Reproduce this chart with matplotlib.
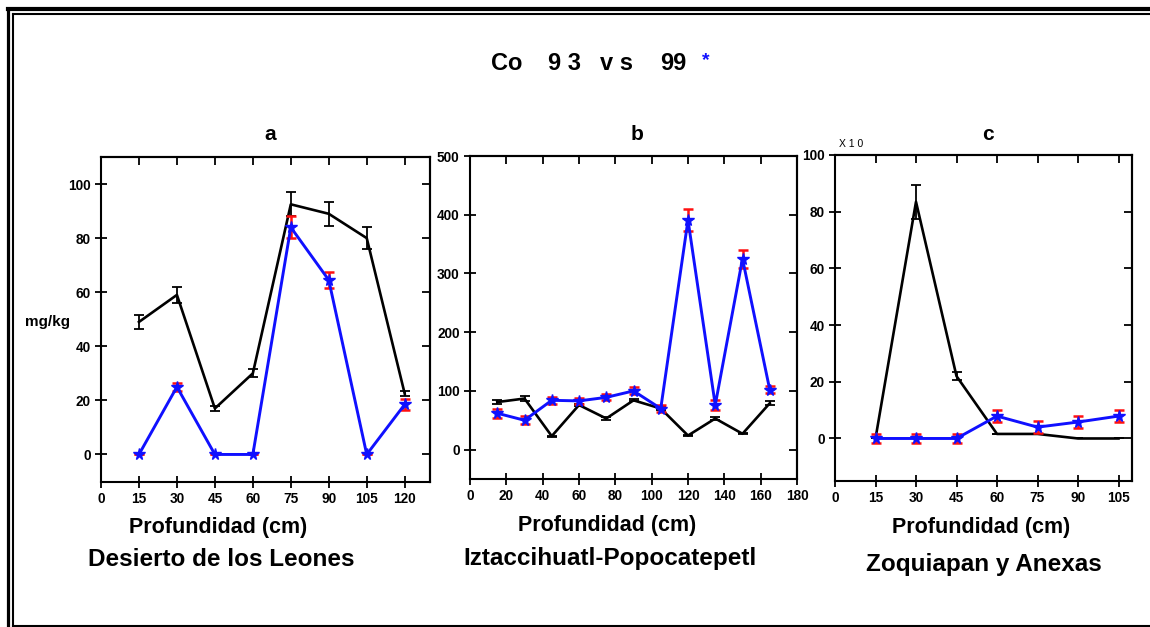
import matplotlib
matplotlib.use("Agg")
import matplotlib.pyplot as plt
from matplotlib.lines import Line2D
from matplotlib import font_manager

# ---------------- data ----------------
depth_a = [15, 30, 45, 60, 75, 90, 105, 120]
co93_a = [49, 59, 17, 30, 92.5, 89, 80, 22.5]
co93_a_err = [2.5, 3, 1, 1.5, 4.5, 4.5, 4, 1]
co99_a = [0, 25, 0, 0, 84, 64.5, 0, 18.5]
co99_a_err = [0, 1.5, 0, 0, 4, 3, 0, 2]

depth_b = [15, 30, 45, 60, 75, 90, 105, 120, 135, 150, 165]
co93_b = [81, 87, 23, 76, 53, 84, 70, 24, 53, 27, 79]
co93_b_err = [3, 4, 1, 2, 2, 2, 2, 1, 2, 1, 3]
co99_b = [62, 50, 84, 83, 89, 100, 70, 391, 76, 325, 102]
co99_b_err = [8, 7, 6, 5, 5, 6, 6, 18, 8, 15, 6]

depth_c = [15, 30, 45, 60, 75, 90, 105]
co93_c = [0, 83.5, 22, 1.6, 1.6, 0, 0]
co93_c_err = [0, 6, 1.5, 0, 0, 0, 0]
co99_c = [0, 0, 0, 7.9, 4, 5.8, 7.9]
co99_c_err = [1.5, 1.5, 1.5, 2, 2, 2, 2]

xticks_a = [0, 15, 30, 45, 60, 75, 90, 105, 120]
yticks_a = [0, 20, 40, 60, 80, 100]
xticks_b = [0, 20, 40, 60, 80, 100, 120, 140, 160, 180]
yticks_b = [0, 100, 200, 300, 400, 500]
xticks_c = [0, 15, 30, 45, 60, 75, 90, 105]
yticks_c = [0, 20, 40, 60, 80, 100]

panel_titles = ["a", "b", "c"]
sites = ["Desierto de los Leones", "Iztaccihuatl-Popocatepetl", "Zoquiapan y Anexas"]
xlabel = "Profundidad (cm)"
ylabel = "mg/kg"
title_parts = ["Co", "9 3", "v s", "99"]

# ---------------- fonts ----------------
names = {f.name for f in font_manager.fontManager.ttflist}
narrow = "Liberation Sans Narrow" if "Liberation Sans Narrow" in names else "Liberation Sans"
plt.rcParams["font.family"] = ["Liberation Sans", "DejaVu Sans"]

W, H = 1150, 627
fig = plt.figure(figsize=(W / 100, H / 100), dpi=100)
fig.patch.set_facecolor("white")


def fx(px):
    return px / W


def fy(py):
    return 1 - py / H


# frame lines
for (x0, y0, x1, y1, lw) in [
    (7.5, 9.3, 1150, 9.3, 3.0),
    (13, 13.5, 1150, 13.5, 1.5),
    (7.5, 9.3, 7.5, 627, 2.3),
    (13, 13.5, 13, 627, 1.5),
    (13, 625.5, 1150, 625.5, 1.5),
]:
    fig.add_artist(Line2D([fx(x0), fx(x1)], [fy(y0), fy(y1)], color="black", lw=lw))


def make_ax(left, right, top, bottom):
    return fig.add_axes([fx(left), fy(bottom), fx(right) - fx(left), (bottom - top) / H])


axes = [
    make_ax(101, 430, 157, 481.5),
    make_ax(470, 797, 156, 479),
    make_ax(835, 1132, 155, 481),
]

specs = [
    (depth_a, co93_a, co93_a_err, co99_a, co99_a_err, xticks_a, yticks_a, (0, 130), (-10, 110)),
    (depth_b, co93_b, co93_b_err, co99_b, co99_b_err, xticks_b, yticks_b, (0, 180), (-50, 500)),
    (depth_c, co93_c, co93_c_err, co99_c, co99_c_err, xticks_c, yticks_c, (0, 110), (-15, 100)),
]

for i, (ax, sp) in enumerate(zip(axes, specs)):
    x, y93, e93, y99, e99, xt, yt, xl, yl = sp
    ax.errorbar(x, y93, yerr=e93, color="black", lw=1.9, elinewidth=1.3,
                capsize=3.5, capthick=1.3, zorder=3)
    ax.errorbar(x, y99, yerr=e99, fmt="none", ecolor="#ff1010", elinewidth=1.8,
                capsize=3.5, capthick=1.8, zorder=4)
    ax.plot(x, y99, color="#1010ff", lw=2.1, marker="*", markersize=8.5,
            markeredgecolor="#1010ff", zorder=5)
    ax.set_xlim(*xl)
    ax.set_ylim(*yl)
    ax.set_xticks(xt)
    ax.set_yticks(yt)
    for s in ax.spines.values():
        s.set_linewidth(1.5)
    ax.tick_params(axis="both", which="major", direction="inout", length=9, width=1.3,
                   labelsize=9.8, pad=3, top=False, right=False)
    for lab in ax.get_xticklabels() + ax.get_yticklabels():
        lab.set_fontfamily([narrow, "DejaVu Sans"])
        lab.set_fontweight("bold")
    # inward ticks on top and right
    sx = ax.secondary_xaxis("top")
    sx.set_xticks(xt)
    sx.tick_params(direction="in", length=5.5, width=1.3, labeltop=False)
    sx.spines["top"].set_linewidth(1.5)
    sy = ax.secondary_yaxis("right")
    sy.set_yticks(yt)
    sy.tick_params(direction="in", length=5.5, width=1.3, labelright=False)
    sy.spines["right"].set_linewidth(1.5)

# panel titles
for px, t in zip([270, 637, 988], panel_titles):
    fig.text(fx(px), fy(134), t, ha="center", va="center", fontsize=15, fontweight="bold")

# x labels and site names
for px, py1, py2, s in [(218, 527, 560, sites[0]), (607, 525, 558, sites[1]), (981, 527, 565, sites[2])]:
    fig.text(fx(px), fy(py1), xlabel, ha="center", va="center", fontsize=15.5, fontweight="bold")
    fig.text(fx(px + 3), fy(py2), s, ha="center", va="center", fontsize=17.5, fontweight="bold")

fig.text(fx(47), fy(322), ylabel, ha="center", va="center", fontsize=11, fontweight="bold")
fig.text(fx(851), fy(144), "X 1 0", ha="center", va="center", fontsize=7.5,
         family=[narrow, "DejaVu Sans"])

for px, t in zip([507, 564, 617, 673], title_parts):
    fig.text(fx(px), fy(63), t, ha="center", va="center", fontsize=17, fontweight="bold")
fig.text(fx(706), fy(61), "*", ha="center", va="center", fontsize=14, fontweight="bold",
         color="#1010ff")

fig.savefig("out.png", dpi=100, facecolor="white")
